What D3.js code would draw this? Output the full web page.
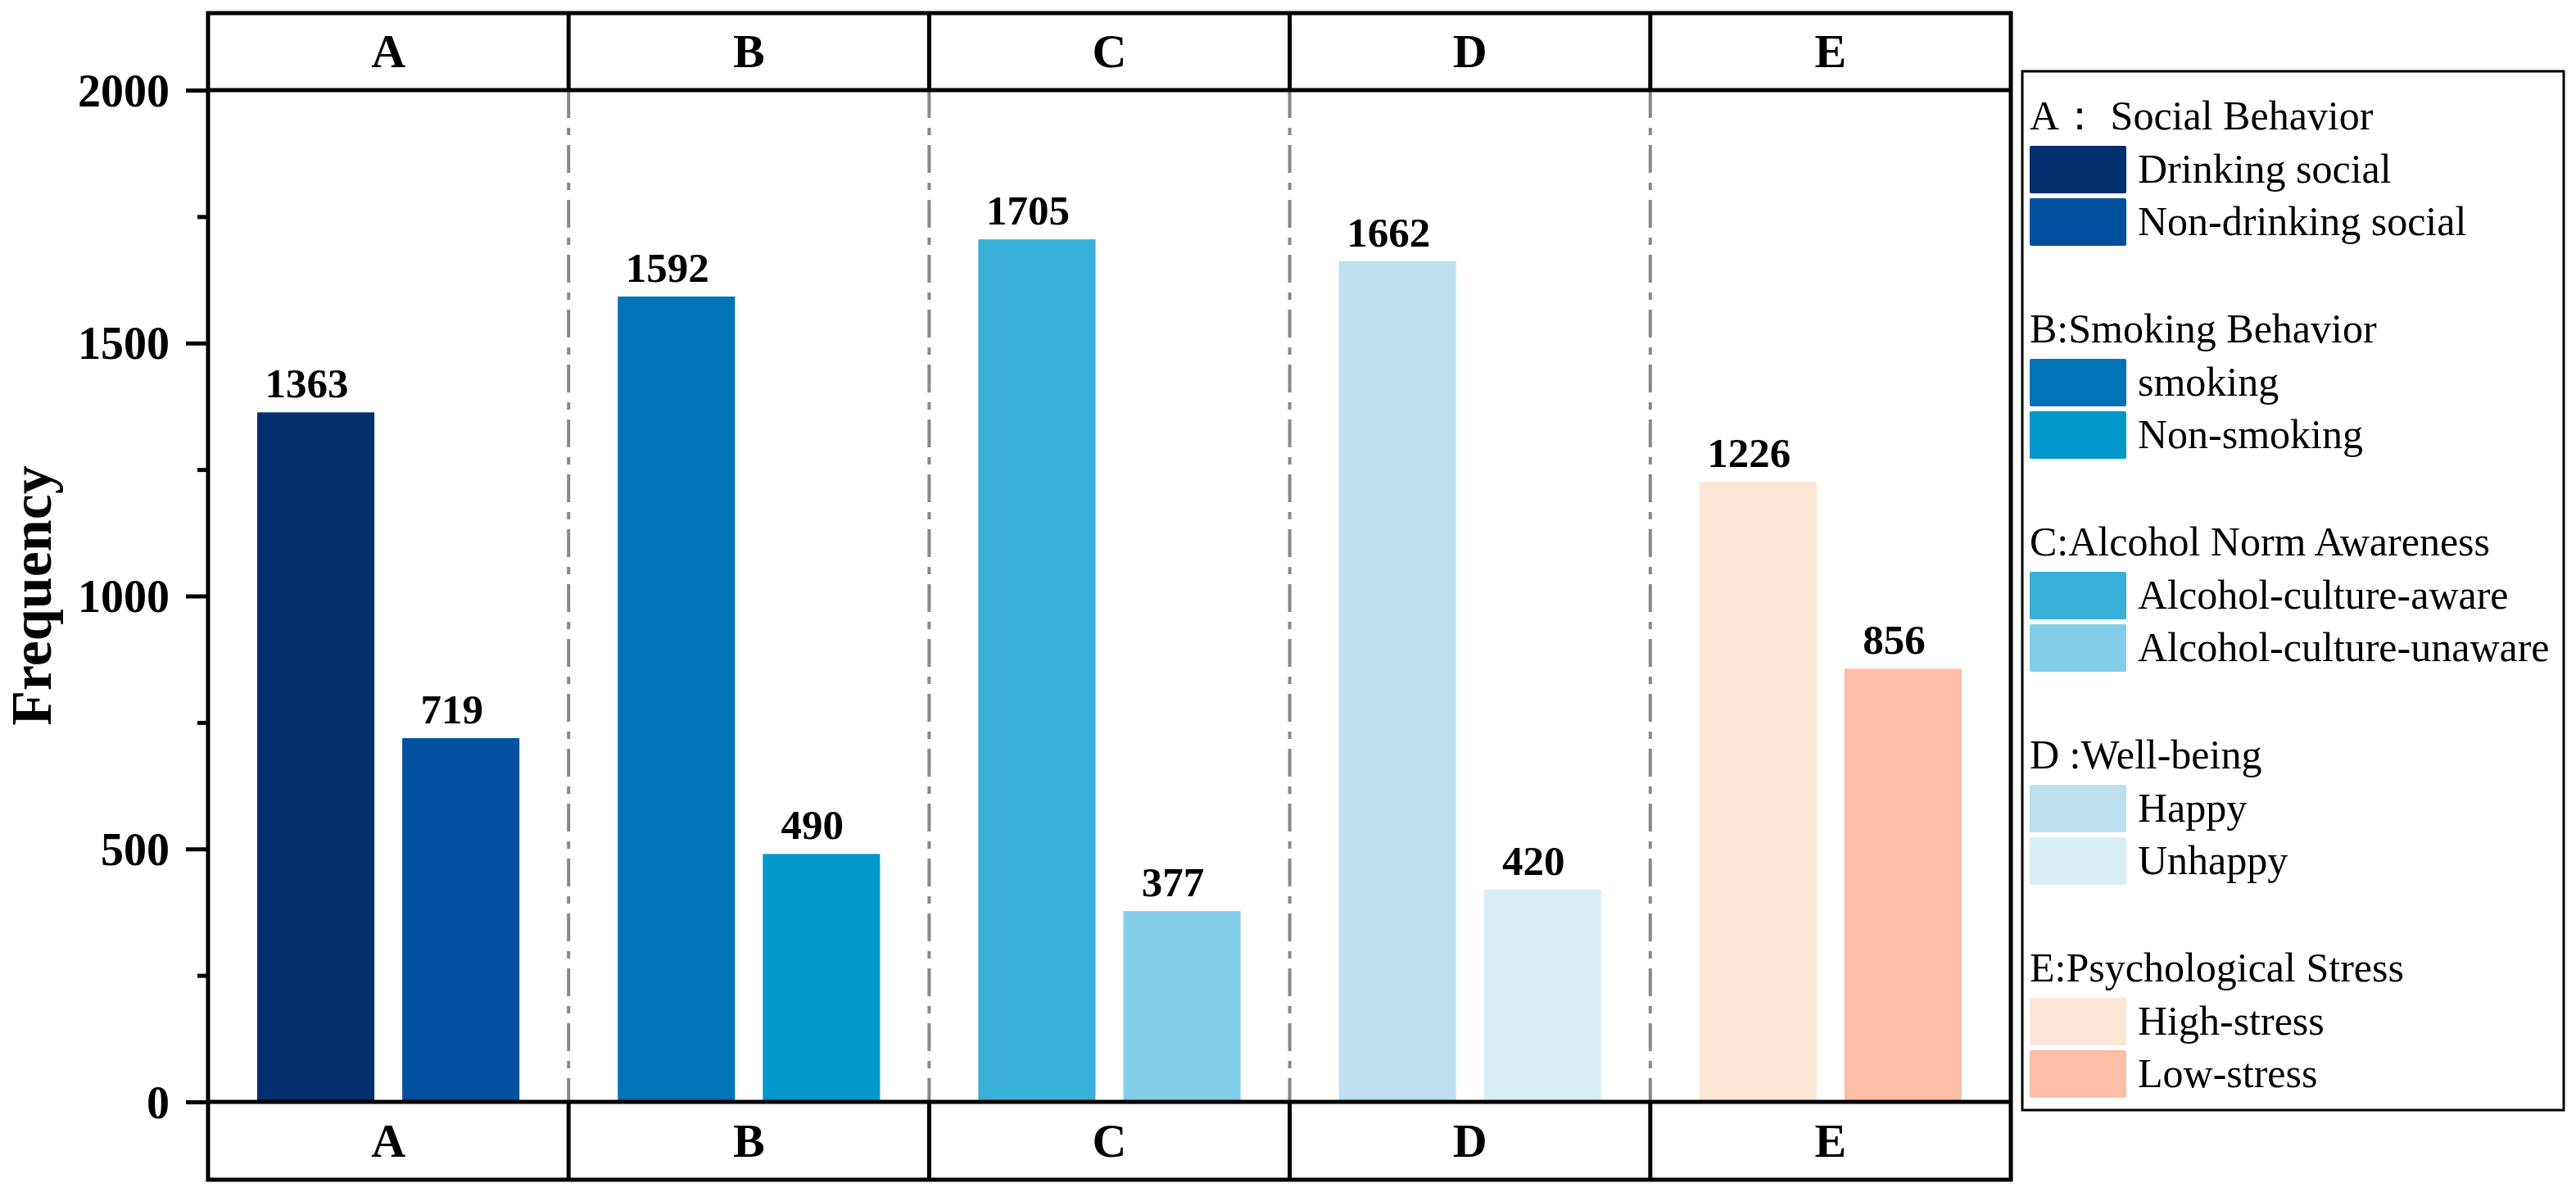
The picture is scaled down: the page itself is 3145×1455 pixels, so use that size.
<!DOCTYPE html>
<html>
<head>
<meta charset="utf-8">
<script src="https://cdn.jsdelivr.net/npm/d3@7"></script>
<style>
  html, body { margin: 0; padding: 0; background: #fff; }
  svg { display: block; }
  text { font-family: "Liberation Serif", "Times New Roman", serif; }
</style>
</head>
<body>
<svg id="chart" width="3145" height="1455"></svg>
<script>
// ---- data ----
const categories = ["A", "B", "C", "D", "E"];
const firstValues = [1363, 1592, 1705, 1662, 1226];
const secondValues = [719, 490, 377, 420, 856];
const firstColors = ["#022F6E", "#0173B7", "#38AFD9", "#BDDFEF", "#FEE6D6"];
const secondColors = ["#00509E", "#0097CA", "#82CDE8", "#D8EEF6", "#FCBDA6"];
const yTicks = [0, 500, 1000, 1500, 2000];
const yMinorTicks = [250, 750, 1250, 1750];
const legendTitles = ["A\uFF1A Social Behavior", "B:Smoking Behavior", "C:Alcohol Norm Awareness", "D :Well-being", "E:Psychological Stress"];
const firstLabels = ["Drinking social", "smoking", "Alcohol-culture-aware", "Happy", "High-stress"];
const secondLabels = ["Non-drinking social", "Non-smoking", "Alcohol-culture-unaware", "Unhappy", "Low-stress"];

// ---- layout ----
const left = 254, right = 2455;
const headTop = 16, plotTop = 110, plotBottom = 1345, footBottom = 1440;
const lw = 5;

const svg = d3.select("#chart");

const x = d3.scaleBand().domain(categories).range([left, right]).paddingInner(0).paddingOuter(0);
const inner = d3.scaleBand().domain([0, 1]).range([0, x.bandwidth()])
  .paddingInner(34 / 177).paddingOuter(60 / 177);
const y = d3.scaleLinear().domain([0, 2000]).range([plotBottom, plotTop]);

// dashed panel separators
svg.append("g").selectAll("line")
  .data(categories.slice(1))
  .join("line")
  .attr("x1", d => x(d)).attr("x2", d => x(d))
  .attr("y1", plotTop).attr("y2", plotBottom)
  .attr("stroke", "#888888").attr("stroke-width", 4)
  .attr("stroke-dasharray", "34 12 9 12");

// bars
const rows = categories.map((c, i) => ({ c, i }));
const gBars = svg.append("g");
gBars.selectAll("rect.b1").data(rows).join("rect")
  .attr("class", "b1")
  .attr("x", d => x(d.c) + inner(0)).attr("width", inner.bandwidth())
  .attr("y", d => y(firstValues[d.i])).attr("height", d => y(0) - y(firstValues[d.i]))
  .attr("fill", d => firstColors[d.i]);
gBars.selectAll("rect.b2").data(rows).join("rect")
  .attr("class", "b2")
  .attr("x", d => x(d.c) + inner(1)).attr("width", inner.bandwidth())
  .attr("y", d => y(secondValues[d.i])).attr("height", d => y(0) - y(secondValues[d.i]))
  .attr("fill", d => secondColors[d.i]);

// value labels
const gLab = svg.append("g").attr("font-weight", "bold").attr("font-size", 51).attr("text-anchor", "middle");
gLab.selectAll("text.l1").data(rows).join("text")
  .attr("class", "l1")
  .attr("x", d => x(d.c) + inner(0) + inner.bandwidth() / 2 - 11)
  .attr("y", d => y(firstValues[d.i]) - 18)
  .text(d => firstValues[d.i]);
gLab.selectAll("text.l2").data(rows).join("text")
  .attr("class", "l2")
  .attr("x", d => x(d.c) + inner(1) + inner.bandwidth() / 2 - 11)
  .attr("y", d => y(secondValues[d.i]) - 18)
  .text(d => secondValues[d.i]);

// y axis
const yAxis = d3.axisLeft(y).tickValues(yTicks).tickSize(27).tickPadding(20).tickFormat(d3.format("d"));
const gy = svg.append("g").attr("transform", `translate(${left},0)`).call(yAxis);
gy.select(".domain").remove();
gy.selectAll(".tick line").attr("stroke", "#000").attr("stroke-width", lw);
gy.selectAll(".tick text").attr("font-family", "Liberation Serif, Times New Roman, serif")
  .attr("font-weight", "bold").attr("font-size", 56).attr("fill", "#000").attr("dy", "0.34em");
const yMinor = d3.axisLeft(y).tickValues(yMinorTicks).tickSize(13).tickFormat("");
const gym = svg.append("g").attr("transform", `translate(${left},0)`).call(yMinor);
gym.select(".domain").remove();
gym.selectAll(".tick line").attr("stroke", "#000").attr("stroke-width", lw);

// axis title
svg.append("text")
  .attr("transform", `translate(62,727) rotate(-90)`)
  .attr("text-anchor", "middle").attr("font-weight", "bold").attr("font-size", 70)
  .text("Frequency");

// frame & header/footer bands
const frame = svg.append("g").attr("stroke", "#000").attr("stroke-width", lw).attr("fill", "none");
frame.append("rect").attr("x", left).attr("y", headTop).attr("width", right - left).attr("height", footBottom - headTop);
frame.append("line").attr("x1", left).attr("x2", right).attr("y1", plotTop).attr("y2", plotTop);
frame.append("line").attr("x1", left).attr("x2", right).attr("y1", plotBottom).attr("y2", plotBottom);
frame.selectAll("line.hd").data(categories.slice(1)).join("line").attr("class", "hd")
  .attr("x1", d => x(d)).attr("x2", d => x(d)).attr("y1", headTop).attr("y2", plotTop);
frame.selectAll("line.ft").data(categories.slice(1)).join("line").attr("class", "ft")
  .attr("x1", d => x(d)).attr("x2", d => x(d)).attr("y1", plotBottom).attr("y2", footBottom);

// header / footer labels
const gHead = svg.append("g").attr("font-weight", "bold").attr("font-size", 58).attr("text-anchor", "middle");
gHead.selectAll("text.h").data(categories).join("text").attr("class", "h")
  .attr("x", d => x(d) + x.bandwidth() / 2).attr("y", 82).text(d => d);
gHead.selectAll("text.f").data(categories).join("text").attr("class", "f")
  .attr("x", d => x(d) + x.bandwidth() / 2).attr("y", 1412).text(d => d);

// legend
const lg = svg.append("g");
lg.append("rect").attr("x", 2469).attr("y", 87).attr("width", 661).attr("height", 1268)
  .attr("fill", "none").attr("stroke", "#000").attr("stroke-width", 3);
const groups = lg.selectAll("g.grp").data(rows).join("g").attr("class", "grp")
  .attr("transform", d => `translate(2478,${158 + d.i * 260})`);
groups.append("text").attr("x", 0).attr("y", 0).attr("font-size", 50).text(d => legendTitles[d.i]);
groups.append("rect").attr("x", 0).attr("y", 20).attr("width", 118).attr("height", 58).attr("rx", 2)
  .attr("fill", d => firstColors[d.i]);
groups.append("rect").attr("x", 0).attr("y", 84).attr("width", 118).attr("height", 58).attr("rx", 2)
  .attr("fill", d => secondColors[d.i]);
groups.append("text").attr("x", 132).attr("y", 65).attr("font-size", 50).text(d => firstLabels[d.i]);
groups.append("text").attr("x", 132).attr("y", 129).attr("font-size", 50).text(d => secondLabels[d.i]);
</script>
</body>
</html>
